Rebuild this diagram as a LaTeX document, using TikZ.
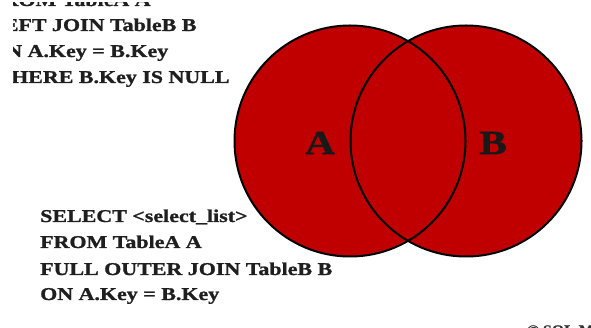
\documentclass[tikz,border=0pt]{standalone}
\usepackage{fontspec}
\newfontfamily\sqlfont[FakeStretch=1.22,FakeBold=1.2]{Liberation Serif}
\begin{document}
\begin{tikzpicture}[x=1pt,y=-1pt,
  sqlline/.style={anchor=base west,inner sep=0pt,text=black!88,
    font=\sqlfont\bfseries\fontsize{18}{22}\selectfont},
  setlabel/.style={anchor=center,inner sep=0pt,text=black!90,
    font=\sqlfont\bfseries\fontsize{34}{40}\selectfont},
  setcircle/.style={fill=venn},
  setoutline/.style={draw=black,line width=2pt}]
\definecolor{venn}{RGB}{192,0,0}
\useasboundingbox (0,0) rectangle (591,328);
\fill[white] (0,0) rectangle (591,328);
% Venn circles
\coordinate (ca) at (350,141);
\coordinate (cb) at (466,141);
\fill[setcircle] (ca) circle (115.5);
\fill[setcircle] (cb) circle (115.5);
\draw[setoutline] (ca) circle (115.5);
\draw[setoutline] (cb) circle (115.5);
\node[setlabel] (la) at (320,143) {A};
\node[setlabel] (lb) at (493,143) {B};
% top query (cropped at its left and top edges)
\begin{scope}
\clip (13,3) rectangle (300,100);
\node[sqlline] (t1) at (-11,6) {FROM TableA A};
\node[sqlline] (t2) at (-11,31) {LEFT JOIN TableB B};
\node[sqlline] (t3) at (-11,57) {ON A.Key = B.Key};
\node[sqlline] (t4) at (-11,83) {WHERE B.Key IS NULL};
\end{scope}
% bottom query
\node[sqlline] (b1) at (40,222) {SELECT <select\_list>};
\node[sqlline] (b2) at (40,248) {FROM TableA A};
\node[sqlline] (b3) at (40,275) {FULL OUTER JOIN TableB B};
\node[sqlline] (b4) at (40,300) {ON A.Key = B.Key};
% copyright (cropped)
\node[anchor=base west,inner sep=0pt,text=black!80,
  font=\sqlfont\bfseries\fontsize{13}{15}\selectfont] (cr) at (527,334) {© SQL Magazine};
\end{tikzpicture}
\end{document}
